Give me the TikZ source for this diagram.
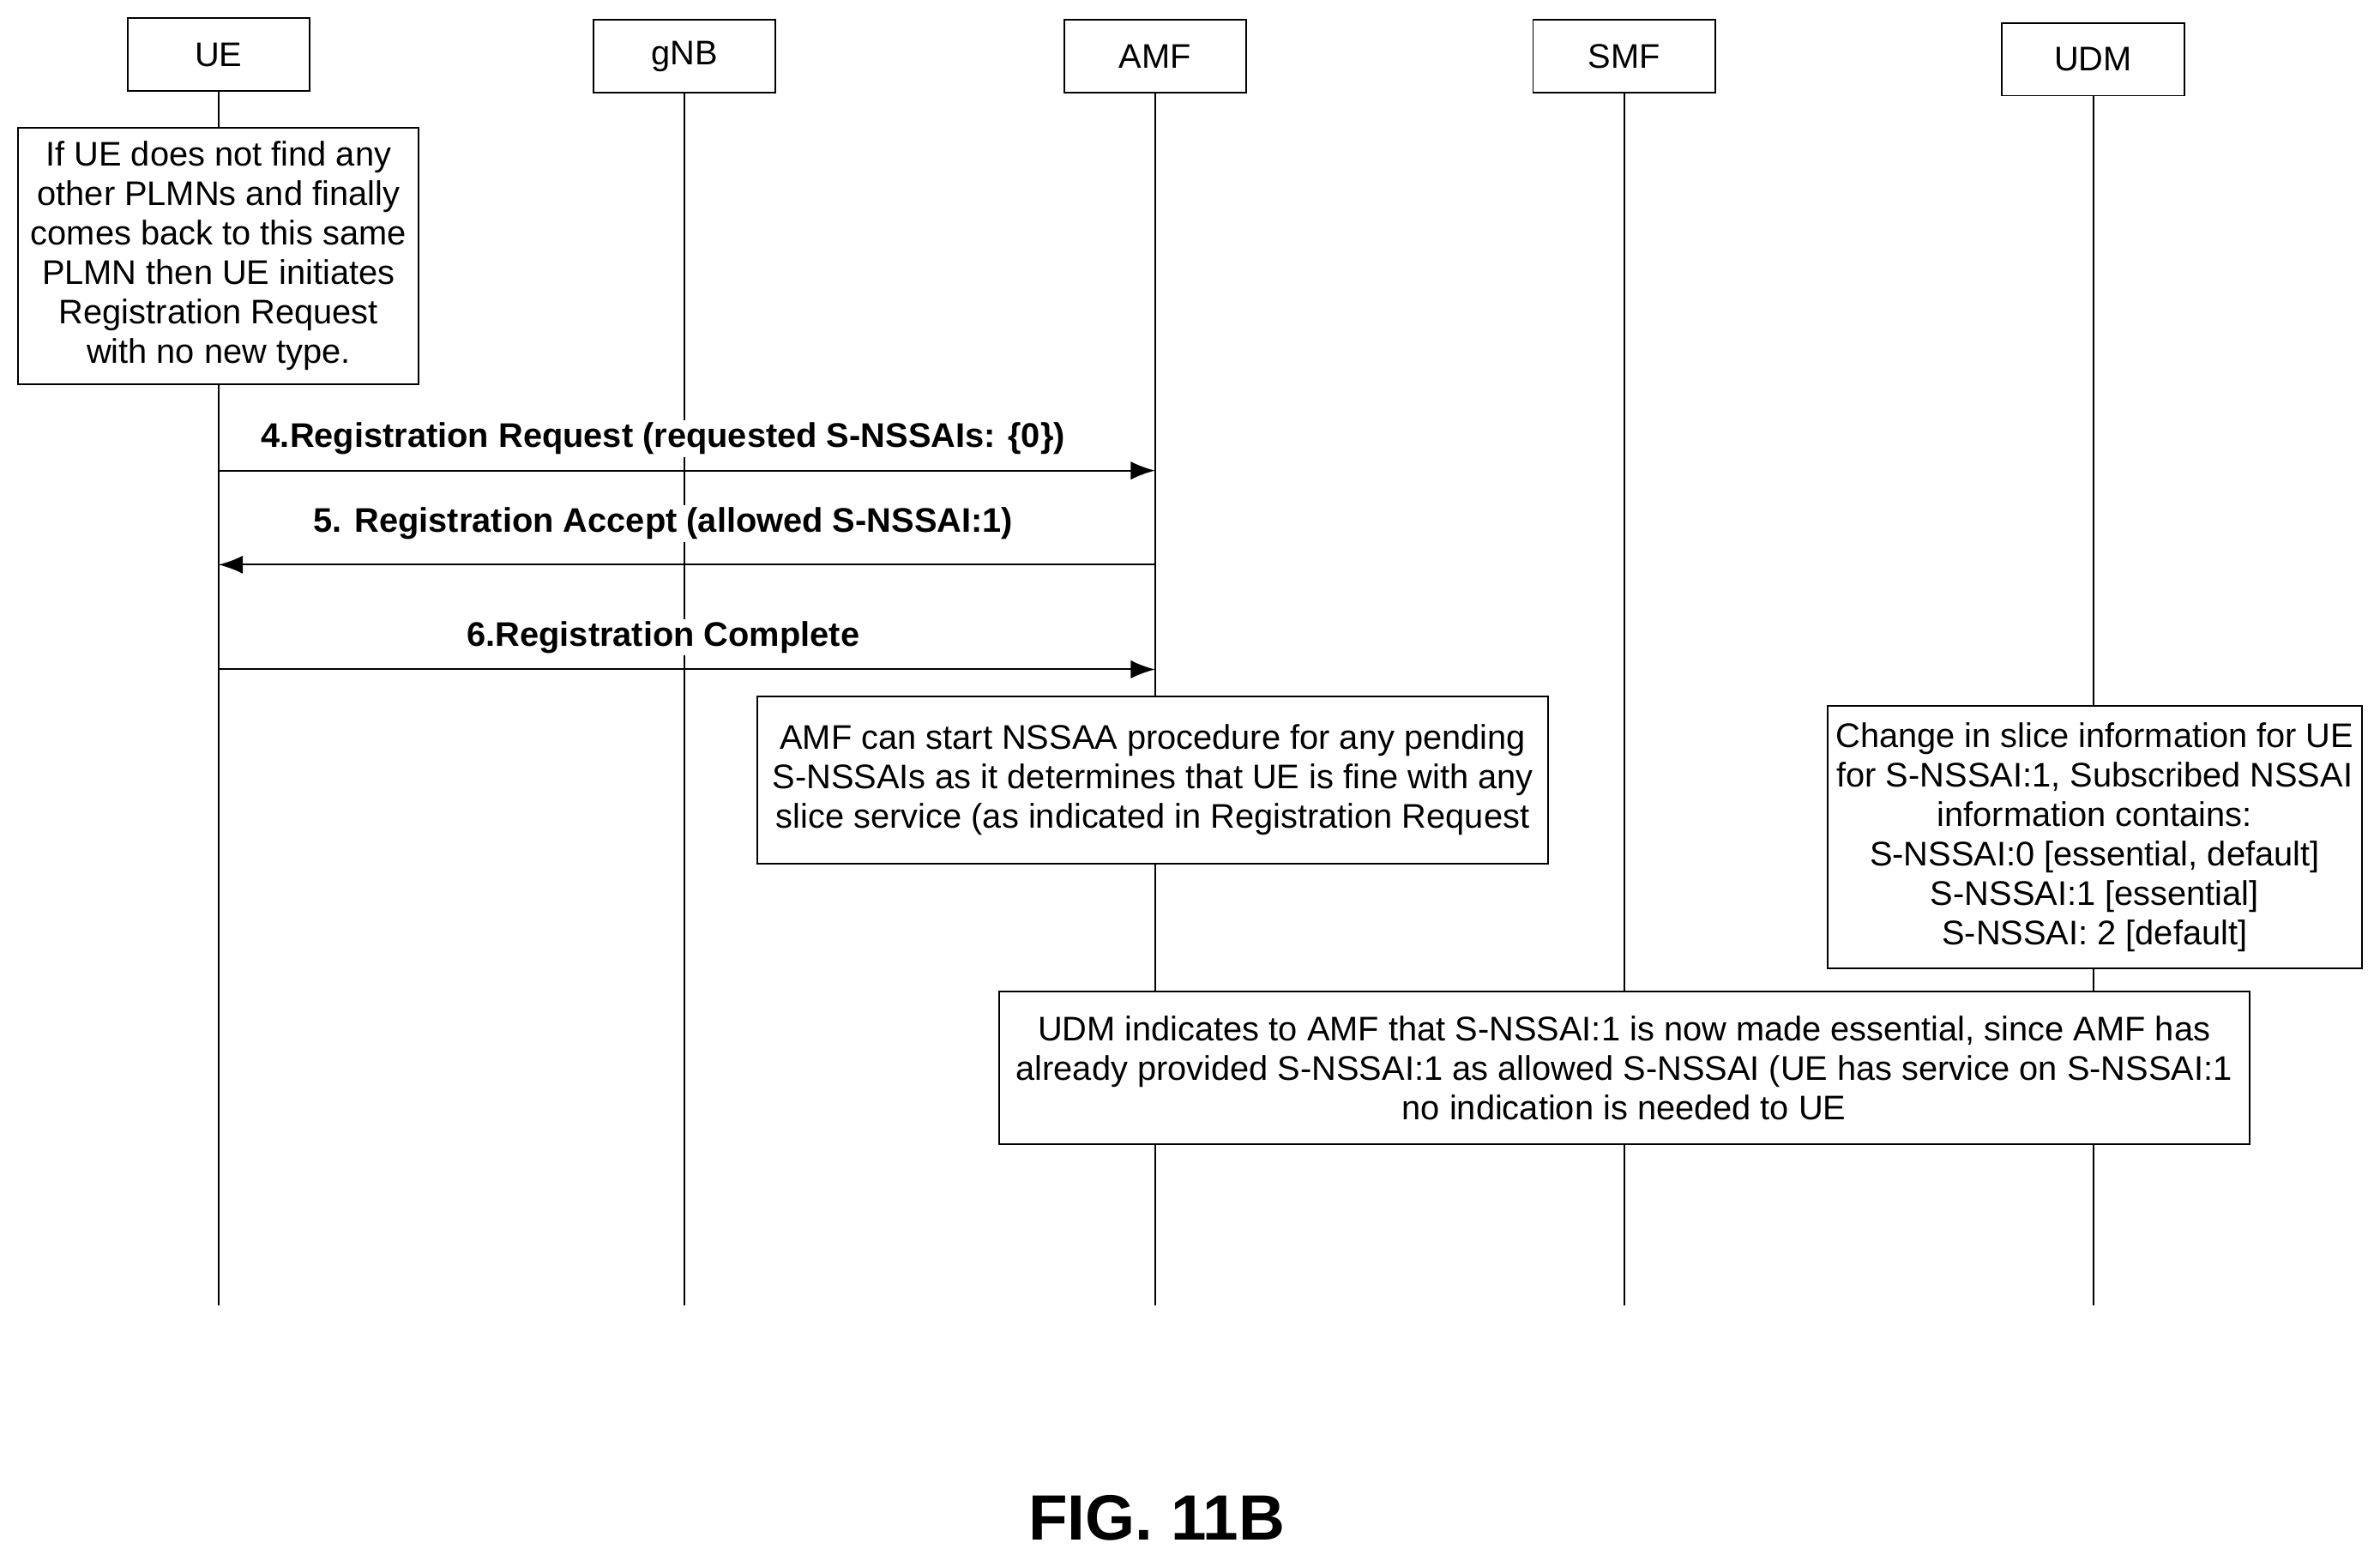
\documentclass[tikz,border=0pt]{standalone}
\usepackage{fontspec}
\setmainfont{Liberation Sans}
\begin{document}
\begin{tikzpicture}[x=0.05cm,y=-0.05cm,
  every node/.style={font=\fontsize{32}{37}\selectfont},
  hdr/.style={draw,line width=1.6pt,fill=white,minimum width=6cm,minimum height=2.4cm,inner sep=0pt},
  note/.style={draw,line width=1.6pt,fill=white,align=center,inner sep=0pt},
  life/.style={line width=1.6pt},
  msg/.style={line width=1.6pt,-{Latex[length=0.8cm,width=0.6cm]}},
  lab/.style={font=\bfseries\fontsize{32}{37}\selectfont,fill=white,inner sep=2pt}]
\usetikzlibrary{arrows.meta}
\useasboundingbox (0,0) rectangle (1568,1024);
\foreach \n/\x/\y in {UE/144/36,gNB/451/37,AMF/761/37,SMF/1070/37,UDM/1379/39}{
  \coordinate (\n b) at (\x,860);
  \draw[life] (\x,\y) -- (\n b);
  \node[hdr] (\n) at (\x,\y) {\n};
}
\node[note,minimum width=264*0.05cm,minimum height=169*0.05cm] (n1) at (144,168.5)
 {If UE does not find any\\other PLMNs and finally\\comes back to this same\\PLMN then UE initiates\\Registration Request\\with no new type.};
\coordinate (a4s) at (144,310); \coordinate (a4e) at (761,310);
\coordinate (a5s) at (761,372); \coordinate (a5e) at (144,372);
\coordinate (a6s) at (144,441); \coordinate (a6e) at (761,441);
\draw[msg] (a4s) -- (a4e);
\draw[msg] (a5s) -- (a5e);
\draw[msg] (a6s) -- (a6e);
\node[lab] (l4) at (437,289) {4.Registration Request (requested S-NSSAIs: \{0\})};
\node[lab] (l5) at (437,345) {5. Registration Accept (allowed S-NSSAI:1)};
\node[lab] (l6) at (437,420) {6.Registration Complete};
\node[note,minimum width=521*0.05cm,minimum height=110*0.05cm] (n2) at (759.5,514)
 {AMF can start NSSAA procedure for any pending\\S-NSSAIs as it determines that UE is fine with any\\slice service (as indicated in Registration Request};
\node[note,minimum width=352*0.05cm,minimum height=173*0.05cm] (n3) at (1380,551.5)
 {Change in slice information for UE\\for S-NSSAI:1, Subscribed NSSAI\\information contains:\\S-NSSAI:0 [essential, default]\\S-NSSAI:1 [essential]\\S-NSSAI: 2 [default]};
\node[note,minimum width=824*0.05cm,minimum height=101*0.05cm] (n4) at (1070,703.5)
 {UDM indicates to AMF that S-NSSAI:1 is now made essential, since AMF has\\already provided S-NSSAI:1 as allowed S-NSSAI (UE has service on S-NSSAI:1\\no indication is needed to UE};
\node[font=\bfseries\fontsize{60}{70}\selectfont] (fig) at (762,1000) {FIG. 11B};
\end{tikzpicture}
\end{document}
